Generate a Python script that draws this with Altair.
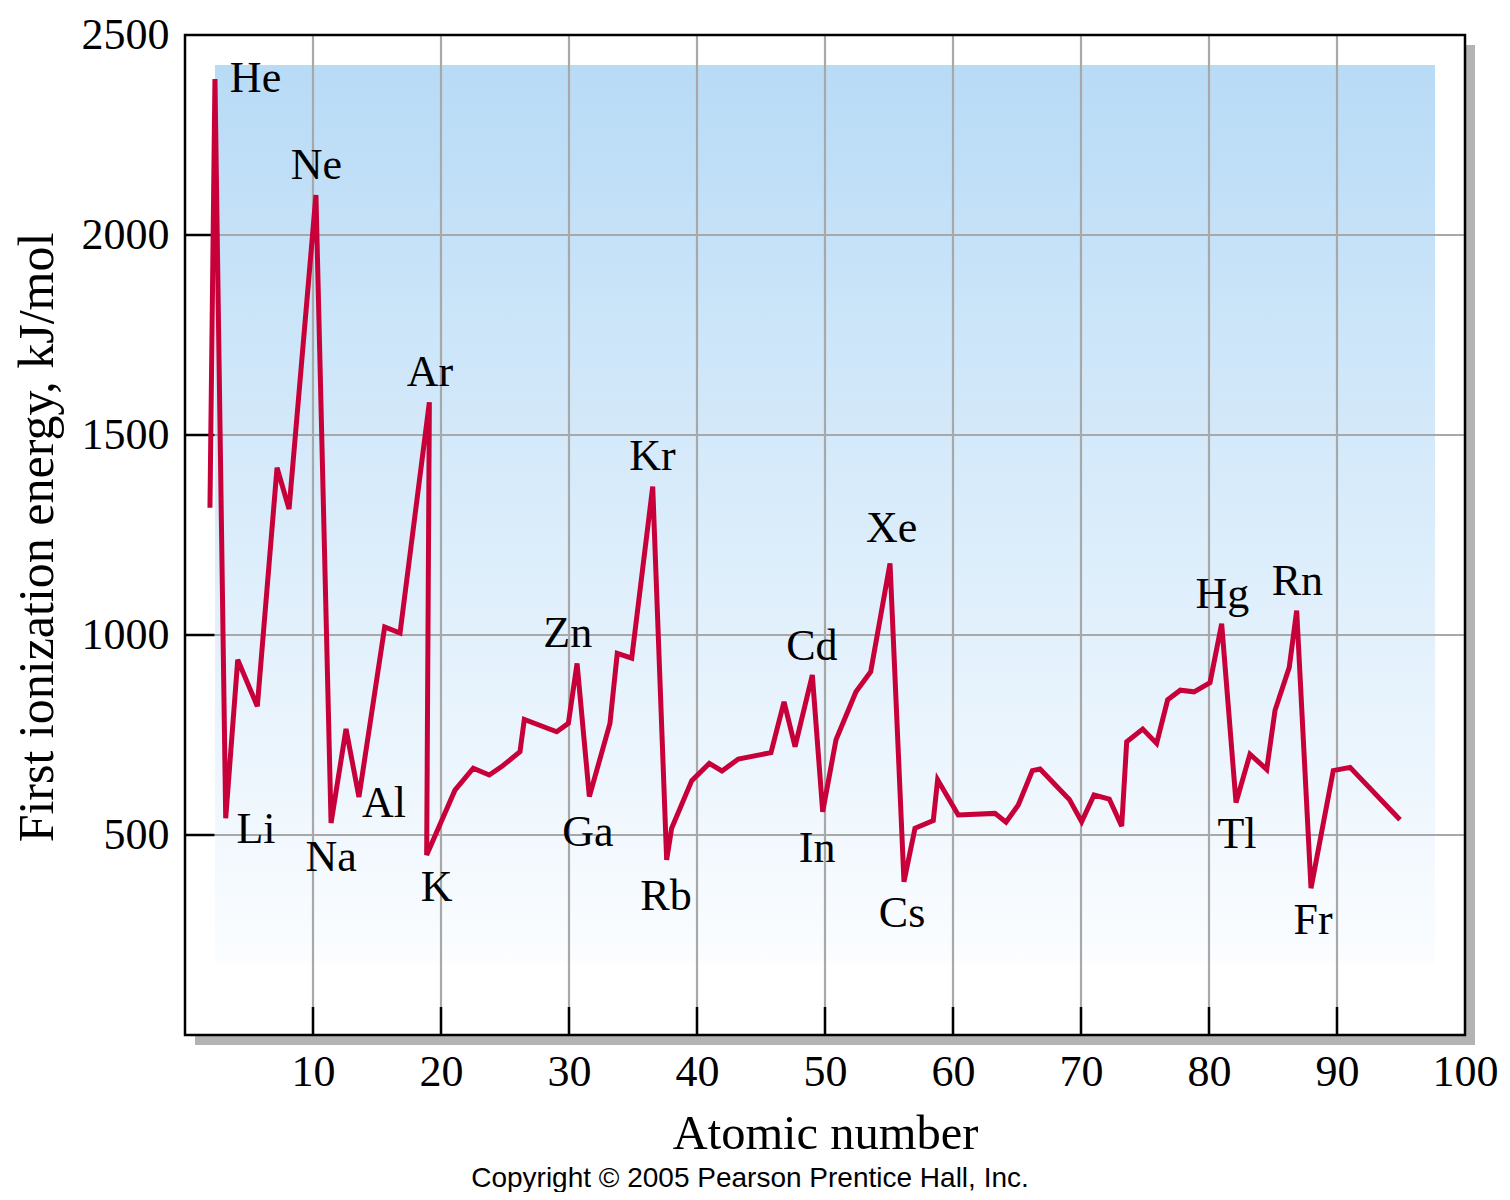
import altair as alt
import pandas as pd

# ---- data ----
# vertices of the ionization-energy polyline (x on the atomic-number axis, y in kJ/mol)
LINE_X = [1.95, 2.34, 3.18, 4.12, 5.65, 7.19, 8.13, 10.23, 11.41, 12.58, 13.59, 15.60, 16.80,
          19.09, 18.88, 21.09, 22.52, 23.77, 24.74, 26.17, 26.51, 29.04, 29.95, 30.63, 31.59,
          33.20, 33.77, 34.90, 36.54, 37.63, 38.02, 39.59, 40.96, 41.95, 43.23, 45.78, 46.80,
          47.66, 49.01, 49.82, 50.86, 52.42, 53.57, 55.08, 56.17, 57.03, 58.46, 58.80, 60.41,
          63.28, 64.14, 65.10, 66.20, 66.80, 69.09, 70.05, 71.02, 72.21, 73.18, 73.57, 74.82,
          75.91, 76.77, 77.76, 78.83, 80.08, 80.99, 82.11, 83.20, 84.51, 85.16, 86.27, 86.85,
          87.97, 89.71, 91.02, 94.92]
LINE_Y = [1318, 2390, 542, 938, 822, 1418, 1315, 2100, 530, 765, 595, 1020, 1005,
          1582, 450, 612, 667, 650, 671, 708, 789, 758, 779, 929, 596,
          779, 954, 942, 1371, 438, 517, 636, 679, 660, 690, 706, 833,
          721, 900, 558, 738, 858, 908, 1179, 383, 517, 536, 638, 550,
          554, 532, 575, 661, 665, 589, 533, 600, 590, 522, 733, 765,
          729, 838, 862, 858, 881, 1028, 581, 702, 664, 812, 919, 1061,
          367, 661, 669, 538]

# element labels
LABEL_TEXT = ["He", "Ne", "Ar", "Li", "Na", "Al", "K", "Zn", "Ga", "Kr", "Rb",
              "Cd", "In", "Xe", "Cs", "Hg", "Tl", "Rn", "Fr"]
LABEL_X = [5.51, 10.27, 19.14, 5.55, 11.41, 15.55, 19.66, 29.90, 31.48, 36.52, 37.58,
           48.98, 49.38, 55.21, 56.02, 81.05, 82.19, 86.91, 88.13]
LABEL_Y = [2389, 2172, 1655, 512, 442, 577, 367, 1002, 506, 1444, 346,
           969, 465, 1265, 302, 1100, 500, 1132, 285]

X_TICKS = [10, 20, 30, 40, 50, 60, 70, 80, 90, 100]
Y_TICKS = [500, 1000, 1500, 2000, 2500]
X_GRID = [10, 20, 30, 40, 50, 60, 70, 80, 90]
Y_GRID = [500, 1000, 1500, 2000]

X_DOMAIN = [0, 100]
Y_DOMAIN = [0, 2500]

# ---- tables ----
line_df = pd.DataFrame({"i": list(range(len(LINE_X))), "x": LINE_X, "y": LINE_Y})
label_df = pd.DataFrame({"t": LABEL_TEXT, "x": LABEL_X, "y": LABEL_Y})
vgrid_df = pd.DataFrame({"x": X_GRID})
hgrid_df = pd.DataFrame({"y": Y_GRID})

SERIF = "Liberation Serif"

xs = alt.Scale(domain=X_DOMAIN, nice=False, zero=False)
ys = alt.Scale(domain=Y_DOMAIN, nice=False, zero=False)

xax = alt.Axis(values=X_TICKS, format="d", grid=False, ticks=False, domain=False,
               labelFont=SERIF, labelFontSize=44, labelColor="black",
               labelPadding=15, labelFlush=False, labelOverlap=False,
               title="Atomic number", titleFont=SERIF, titleFontSize=48.5,
               titleFontWeight="normal", titleColor="black",
               titleX=640, titleY=113, titleBaseline="alphabetic")
yax = alt.Axis(values=Y_TICKS, format="d", grid=False, ticks=False, domain=False,
               labelFont=SERIF, labelFontSize=44, labelColor="black",
               labelPadding=16, labelFlush=False, labelOverlap=False,
               title="First ionization energy, kJ/mol", titleFont=SERIF,
               titleFontSize=50, titleFontWeight="normal", titleColor="black",
               titleX=-133, titleY=502, titleAngle=270, titleBaseline="alphabetic")

# frame / panel geometry (axis units)
dx_sh = 10 / 12.8
dy_sh = 10 / 0.4
box = pd.DataFrame({"x0": [X_DOMAIN[0]], "x1": [X_DOMAIN[1]], "y0": [Y_DOMAIN[0]], "y1": [Y_DOMAIN[1]]})
shadow_df = pd.DataFrame({"x0": [X_DOMAIN[0] + dx_sh], "x1": [X_DOMAIN[1] + dx_sh],
                          "y0": [Y_DOMAIN[0] - dy_sh], "y1": [Y_DOMAIN[1] - dy_sh]})
grad_df = pd.DataFrame({"x0": [2.34], "x1": [97.66], "y0": [180], "y1": [2425]})


def rect_enc(ch):
    return ch.encode(
        x=alt.X("x0:Q", scale=xs, axis=xax), x2="x1:Q",
        y=alt.Y("y0:Q", scale=ys, axis=yax), y2="y1:Q")


shadow = rect_enc(alt.Chart(shadow_df).mark_rect(color="#b3b3b3"))
panel = rect_enc(alt.Chart(box).mark_rect(color="white"))
gradient = rect_enc(alt.Chart(grad_df).mark_rect(
    fill=alt.Gradient(gradient="linear",
                      stops=[alt.GradientStop(color="#b8dbf6", offset=0),
                             alt.GradientStop(color="#fbfdff", offset=1)],
                      x1=0, x2=0, y1=0, y2=1)))

vgrid = alt.Chart(vgrid_df).mark_rule(color="#a8a8a8", strokeWidth=2.2).encode(
    x=alt.X("x:Q", scale=xs, axis=xax),
    y=alt.datum(Y_DOMAIN[0], scale=ys), y2=alt.datum(Y_DOMAIN[1]))
hgrid = alt.Chart(hgrid_df).mark_rule(color="#a8a8a8", strokeWidth=2.2).encode(
    y=alt.Y("y:Q", scale=ys, axis=yax),
    x=alt.datum(X_DOMAIN[0], scale=xs), x2=alt.datum(X_DOMAIN[1]))

vtick = alt.Chart(vgrid_df).mark_rule(color="black", strokeWidth=2.5).encode(
    x=alt.X("x:Q", scale=xs, axis=xax),
    y=alt.datum(0, scale=ys), y2=alt.datum(70))
htick = alt.Chart(hgrid_df).mark_rule(color="black", strokeWidth=2.5).encode(
    y=alt.Y("y:Q", scale=ys, axis=yax),
    x=alt.datum(0, scale=xs), x2=alt.datum(2.3))

line = alt.Chart(line_df).mark_line(color="#c8003a", strokeWidth=5).encode(
    x=alt.X("x:Q", scale=xs, axis=xax),
    y=alt.Y("y:Q", scale=ys, axis=yax),
    order="i:Q")

labels = alt.Chart(label_df).mark_text(font=SERIF, fontSize=44, color="black",
                                       align="center", baseline="middle").encode(
    x=alt.X("x:Q", scale=xs, axis=xax),
    y=alt.Y("y:Q", scale=ys, axis=yax),
    text="t:N")

frame = rect_enc(alt.Chart(box).mark_rect(filled=False, stroke="black", strokeWidth=2.5))

chart = alt.layer(shadow, panel, gradient, vgrid, hgrid, vtick, htick, line, labels, frame).properties(
    width=1280, height=1000,
    padding={"left": 177, "top": 27, "right": 37, "bottom": 157},
    autosize=alt.AutoSizeParams(type="none"),
    title=alt.TitleParams("Copyright © 2005 Pearson Prentice Hall, Inc.", orient="bottom",
                          anchor="middle", dx=-75, offset=7, font="Liberation Sans",
                          fontSize=28, fontWeight="normal", color="black"),
).configure_view(stroke=None).configure(background="white")

chart.save("out.html", embed_options={"renderer": "svg", "actions": False})
